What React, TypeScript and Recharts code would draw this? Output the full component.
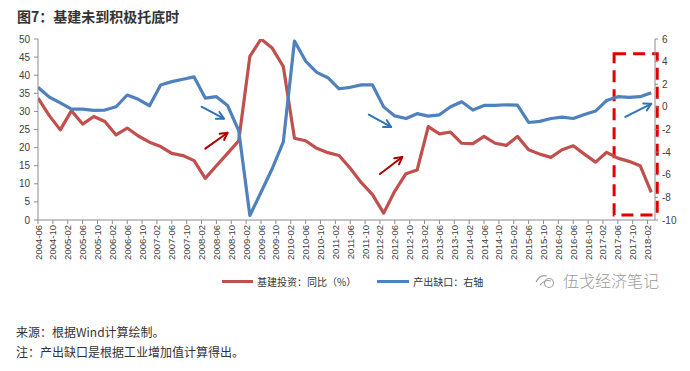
import React from 'react';
import { LineChart, Line, XAxis, YAxis, ReferenceArea, ReferenceLine } from 'recharts';

// quarterly observation months
const quarters = [
  '2004-06','2004-09','2004-12','2005-03','2005-06','2005-09','2005-12','2006-03','2006-06','2006-09','2006-12',
  '2007-03','2007-06','2007-09','2007-12','2008-03','2008-06','2008-09','2008-12','2009-03','2009-06','2009-09','2009-12',
  '2010-03','2010-06','2010-09','2010-12','2011-03','2011-06','2011-09','2011-12','2012-03','2012-06','2012-09','2012-12',
  '2013-03','2013-06','2013-09','2013-12','2014-03','2014-06','2014-09','2014-12','2015-03','2015-06','2015-09','2015-12',
  '2016-03','2016-06','2016-09','2016-12','2017-03','2017-06','2017-09','2017-12','2018-03',
];

// 基建投资：同比（%） — left axis
const infraYoY = [
  33.7, 28.9, 24.9, 30.2, 26.5, 28.6, 27.2, 23.5, 25.4, 23.2, 21.5,
  20.3, 18.4, 17.8, 16.4, 11.5, 15.0, 18.4, 21.9, 45.2, 50.0, 47.5, 42.4,
  22.6, 21.9, 19.8, 18.6, 17.8, 14.3, 10.3, 7.0, 1.9, 8.0, 12.8, 13.8,
  25.8, 23.8, 24.3, 21.2, 21.1, 23.1, 21.2, 20.6, 23.1, 19.4, 18.2, 17.3,
  19.4, 20.5, 18.2, 16.0, 18.7, 17.1, 16.2, 15.0, 7.6,
];

// 产出缺口 — right axis
const outputGap = [
  1.73, 0.87, 0.36, -0.2, -0.2, -0.31, -0.28, 0.01, 1.05, 0.67, 0.1,
  1.94, 2.23, 2.44, 2.65, 0.78, 0.9, 0.12, -2.1, -9.6, -7.55, -5.47, -3.1,
  5.82, 4.05, 3.05, 2.58, 1.6, 1.73, 1.94, 1.94, 0.0, -0.8, -1.03, -0.6,
  -0.82, -0.7, 0.01, 0.45, -0.28, 0.13, 0.13, 0.19, 0.16, -1.38, -1.28, -1.03,
  -0.91, -1.03, -0.67, -0.37, 0.57, 0.9, 0.84, 0.9, 1.25,
];

const xTickLabels = [
  '2004-06','2004-10','2005-02','2005-06','2005-10','2006-02','2006-06','2006-10','2007-02','2007-06','2007-10',
  '2008-02','2008-06','2008-10','2009-02','2009-06','2009-10','2010-02','2010-06','2010-10','2011-02','2011-06',
  '2011-10','2012-02','2012-06','2012-10','2013-02','2013-06','2013-10','2014-02','2014-06','2014-10','2015-02',
  '2015-06','2015-10','2016-02','2016-06','2016-10','2017-02','2017-06','2017-10','2018-02',
];

const leftTicks = [0, 5, 10, 15, 20, 25, 30, 35, 40, 45, 50];
const rightTicks = [-10, -8, -6, -4, -2, 0, 2, 4, 6];

// annotation arrows: [from month, from value(left axis), to month, to value]
const blueArrows = [
  ['2008-02', 31.3, '2008-08', 28.0],
  ['2011-11', 29.1, '2012-05', 25.7],
  ['2017-08', 28.5, '2018-03', 32.1],
];
const redArrows = [
  ['2008-03', 19.7, '2008-09', 24.1],
  ['2012-02', 12.7, '2012-08', 17.4],
];
const highlightBox = { from: '2017-05', to: '2018-04', top: 45.9, bottom: 1.4 };

const monthIndex = (s: string) => {
  const [y, m] = s.split('-').map(Number);
  return (y - 2004) * 12 + (m - 6);
};

const data = quarters.map((q, i) => ({ m: monthIndex(q), infra: infraYoY[i], gap: outputGap[i] }));
const xTicks = xTickLabels.map(monthIndex);
const labelByIndex: Record<number, string> = {};
xTickLabels.forEach((l) => (labelByIndex[monthIndex(l)] = l));

const AXIS = '#8c8c8c';
const TICK_TEXT = '#404040';
const RED = '#C0504D';
const BLUE = '#4F81BD';
const latin = '"Liberation Sans", Arial, "Noto Sans CJK SC", sans-serif';
const cjk = '"Noto Sans CJK SC", "Noto Sans", sans-serif';

const XTick = (props: any) => {
  const { x, y, payload } = props;
  const tx = x + 3.5;
  return (
    <text x={tx} y={y} transform={`rotate(-90, ${tx}, ${y})`} textAnchor="end" fontSize={9.5}
      fontFamily={latin} fill={TICK_TEXT}>
      {labelByIndex[payload.value]}
    </text>
  );
};

const makeArrow = (color: string) => (props: any) => {
  const { x1, y1, x2, y2 } = props;
  if ([x1, y1, x2, y2].some((v) => v == null || isNaN(v))) return <g />;
  const a = Math.atan2(y2 - y1, x2 - x1);
  const L = 8;
  const s = 0.5;
  const p1 = [x2 - L * Math.cos(a - s), y2 - L * Math.sin(a - s)];
  const p2 = [x2 - L * Math.cos(a + s), y2 - L * Math.sin(a + s)];
  return (
    <g>
      <line x1={x1} y1={y1} x2={x2} y2={y2} stroke={color} strokeWidth={2} strokeLinecap="round" />
      <path d={`M${p1[0]},${p1[1]} L${x2},${y2} L${p2[0]},${p2[1]}`} fill="none" stroke={color}
        strokeWidth={2} strokeLinecap="round" strokeLinejoin="round" />
    </g>
  );
};
const BlueArrow = makeArrow('#2E75B6');
const RedArrow = makeArrow('#B00000');

export default function App() {
  return (
    <div style={{ position: 'absolute', left: 0, top: 0, width: 690, height: 371, background: '#fff', overflow: 'hidden' }}>
      <div style={{ position: 'absolute', left: 17, top: 6, fontFamily: cjk, fontWeight: 700, fontSize: 14, color: '#333', lineHeight: '20px' }}>
        图7：基建未到积极托底时
      </div>
      <div style={{ position: 'absolute', left: 0, top: 0 }}>
        <LineChart width={690} height={265} data={data} margin={{ top: 39, right: 0, left: 0, bottom: 0 }}>
          <XAxis dataKey="m" type="number" domain={[0, 166]} ticks={xTicks} interval={0} height={45}
            allowDataOverflow tick={<XTick />} tickSize={4} tickMargin={1}
            axisLine={{ stroke: AXIS }} tickLine={{ stroke: AXIS }} />
          <YAxis yAxisId="left" domain={[0, 50]} ticks={leftTicks} width={38} allowDataOverflow
            tickSize={4} tickMargin={4} interval={0}
            tick={{ fontSize: 10, fill: TICK_TEXT, fontFamily: latin }}
            axisLine={{ stroke: AXIS }} tickLine={{ stroke: AXIS }} />
          <YAxis yAxisId="right" orientation="right" domain={[-10, 6]} ticks={rightTicks} width={35}
            allowDataOverflow tickSize={3} tickMargin={4} interval={0}
            tick={{ fontSize: 10, fill: TICK_TEXT, fontFamily: latin }}
            axisLine={{ stroke: AXIS }} tickLine={{ stroke: AXIS }} />
          <Line yAxisId="left" dataKey="infra" stroke={RED} strokeWidth={3.2} dot={false}
            isAnimationActive={false} strokeLinejoin="round" />
          <Line yAxisId="right" dataKey="gap" stroke={BLUE} strokeWidth={3.2} dot={false}
            isAnimationActive={false} strokeLinejoin="round" />
          <ReferenceArea yAxisId="left" x1={monthIndex(highlightBox.from)} x2={monthIndex(highlightBox.to) + 0.6}
            y1={highlightBox.bottom} y2={highlightBox.top} ifOverflow="visible"
            fill="none" fillOpacity={0} stroke="#E00000" strokeWidth={3} strokeDasharray="12 7" />
          {blueArrows.map((a, i) => (
            <ReferenceLine key={'b' + i} yAxisId="left" ifOverflow="visible"
              segment={[{ x: monthIndex(a[0] as string), y: a[1] as number }, { x: monthIndex(a[2] as string), y: a[3] as number }]}
              shape={BlueArrow} />
          ))}
          {redArrows.map((a, i) => (
            <ReferenceLine key={'r' + i} yAxisId="left" ifOverflow="visible"
              segment={[{ x: monthIndex(a[0] as string), y: a[1] as number }, { x: monthIndex(a[2] as string), y: a[3] as number }]}
              shape={RedArrow} />
          ))}
        </LineChart>
      </div>
      {/* legend */}
      <div style={{ position: 'absolute', left: 222, top: 273, height: 16, display: 'flex', alignItems: 'center', fontFamily: cjk, fontSize: 10, color: '#333' }}>
        <span style={{ display: 'inline-block', width: 31, height: 3, background: RED, marginRight: 4 }} />
        <span>基建投资：同比（%）</span>
        <span style={{ display: 'inline-block', width: 32, height: 3, background: BLUE, marginLeft: 21, marginRight: 4 }} />
        <span>产出缺口：右轴</span>
      </div>
      {/* watermark */}
      <div style={{ position: 'absolute', left: 532, top: 269, height: 22, display: 'flex', alignItems: 'center', fontFamily: cjk, fontSize: 16, color: '#9a9a9a', fontWeight: 300 }}>
        <svg width="26" height="20" viewBox="0 0 26 20" style={{ marginRight: 5 }}>
          <path d="M4 12 Q8 4 15 6" fill="none" stroke="#a0a0a0" strokeWidth="1.2" />
          <path d="M8 15 Q13 9 19 11" fill="none" stroke="#a0a0a0" strokeWidth="1.2" />
          <circle cx="17" cy="13" r="4.5" fill="none" stroke="#a0a0a0" strokeWidth="1.2" />
        </svg>
        伍戈经济笔记
      </div>
      {/* footnotes */}
      <div style={{ position: 'absolute', left: 16, top: 323, fontFamily: cjk, fontSize: 12, color: '#333', lineHeight: '18px' }}>
        来源：根据Wind计算绘制。
      </div>
      <div style={{ position: 'absolute', left: 16, top: 343, fontFamily: cjk, fontSize: 12, color: '#333', lineHeight: '18px' }}>
        注：产出缺口是根据工业增加值计算得出。
      </div>
    </div>
  );
}
